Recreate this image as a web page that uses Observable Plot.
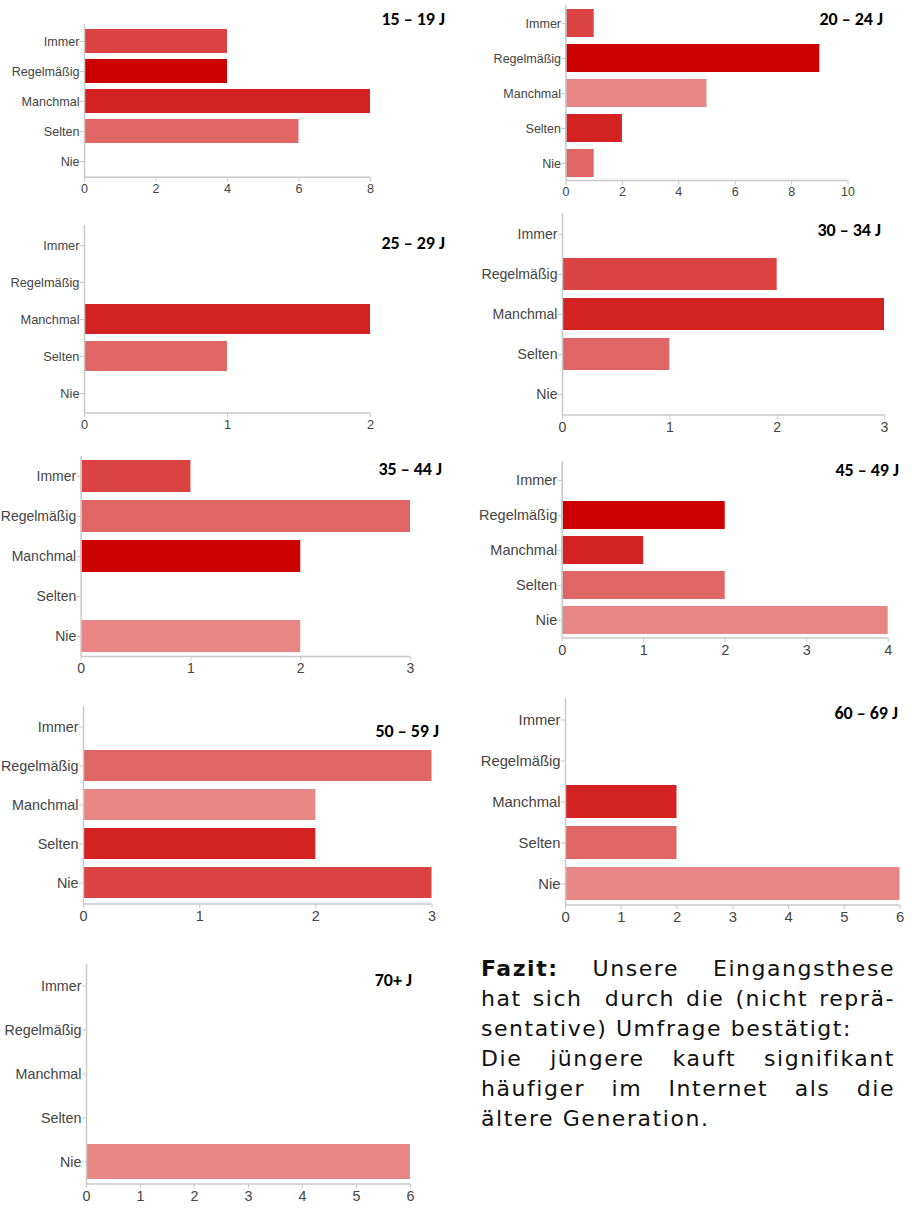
<!DOCTYPE html>
<html><head><meta charset="utf-8">
<script src="https://cdn.jsdelivr.net/npm/d3@7"></script>
<script src="https://cdn.jsdelivr.net/npm/@observablehq/plot@0.6"></script>
<style>
body{margin:0;background:#fff;}
#page{position:relative;width:912px;height:1208px;overflow:hidden;background:#fff;}
.panel{position:absolute;}
.title{position:absolute;font-family:Carlito,"Liberation Sans",Arial,sans-serif;font-weight:bold;font-size:18px;line-height:18px;color:#000;white-space:nowrap;}
.fazit{position:absolute;left:481px;top:954.4px;width:414px;font-family:"DejaVu Sans",Verdana,sans-serif;font-size:22px;line-height:30px;letter-spacing:1.55px;color:#111;}
.fazit div{white-space:pre;}
.fazit .j{white-space:normal;text-align:justify;text-align-last:justify;}
</style></head><body><div id="page"></div>
<script>
// ---- data ----
const categories = ["Immer", "Regelmäßig", "Manchmal", "Selten", "Nie"];
const ageGroups = ["15 – 19 J", "20 – 24 J", "25 – 29 J", "30 – 34 J", "35 – 44 J", "45 – 49 J", "50 – 59 J", "60 – 69 J", "70+ J"];
const v15_19 = [4, 4, 8, 6, 0];
const v20_24 = [1, 9, 5, 2, 1];
const v25_29 = [0, 0, 2, 1, 0];
const v30_34 = [0, 2, 3, 1, 0];
const v35_44 = [1, 3, 2, 0, 2];
const v45_49 = [0, 2, 1, 2, 4];
const v50_59 = [0, 3, 2, 2, 3];
const v60_69 = [0, 0, 2, 2, 6];
const v70plus = [0, 0, 0, 0, 6];
const panelValues = [v15_19, v20_24, v25_29, v30_34, v35_44, v45_49, v50_59, v60_69, v70plus];
const axisMax = [8, 10, 2, 3, 3, 4, 3, 6, 6];
const tickStep = [2, 2, 1, 1, 1, 1, 1, 1, 1];

// ---- styles ----
const shades = {a: "#cc0000", b: "#d42121", c: "#db4343", d: "#e06565", e: "#e88686"};
const barShades = [
  ["c", "a", "b", "d", "d"],
  ["c", "a", "e", "b", "d"],
  ["c", "c", "b", "d", "d"],
  ["c", "c", "b", "d", "d"],
  ["c", "d", "a", "d", "e"],
  ["c", "a", "b", "d", "e"],
  ["c", "d", "e", "b", "c"],
  ["c", "c", "b", "d", "e"],
  ["c", "c", "b", "d", "e"]
];

// ---- layout (px on the page) ----
const layout = [
  {col: 0,   x0: 84,    x1: 370,   yTop: 23.7,  yBase: 177,  fs: 12.6, tr: 445, ty: 19.5},
  {col: 456, x0: 565.5, x1: 847.5, yTop: 4.5,   yBase: 180,  fs: 12.5, tr: 883, ty: 19.5},
  {col: 0,   x0: 84,    x1: 370,   yTop: 225,   yBase: 413,  fs: 12.8, tr: 445, ty: 243.5},
  {col: 456, x0: 562,   x1: 884,   yTop: 213,   yBase: 415,  fs: 14.1, tr: 881, ty: 230.5},
  {col: 0,   x0: 80.7,  x1: 410,   yTop: 456.4, yBase: 657,  fs: 14.0, tr: 442, ty: 469},
  {col: 456, x0: 561.7, x1: 887.7, yTop: 461,   yBase: 638,  fs: 14.5, tr: 899, ty: 470.5},
  {col: 0,   x0: 83,    x1: 431.5, yTop: 706,   yBase: 904,  fs: 14.4, tr: 439, ty: 731},
  {col: 456, x0: 565,   x1: 899.5, yTop: 698,   yBase: 905,  fs: 14.8, tr: 898, ty: 713.5},
  {col: 0,   x0: 86,    x1: 410,   yTop: 964,   yBase: 1184, fs: 14.3, tr: 412, ty: 980.5}
];

const page = document.getElementById("page");
const axisGray = "#c8c8c8";
const mt = 2, mb = 30;

function baselineMark(xmax) {
  return (index, scales, values, dims) => {
    const y = dims.height - dims.marginBottom;
    return d3.create("svg:line")
      .attr("x1", scales.x(0)).attr("x2", scales.x(xmax))
      .attr("y1", y).attr("y2", y)
      .attr("stroke", axisGray).attr("stroke-width", 1.5)
      .node();
  };
}

panelValues.forEach((vals, i) => {
  const L = layout[i];
  const rows = categories
    .map((c, j) => ({category: c, value: vals[j], color: shades[barShades[i][j]]}))
    .filter(d => d.value > 0);
  const ticks = d3.range(0, axisMax[i] + 1e-9, tickStep[i]);
  const h = L.yBase - L.yTop + mt + mb;
  const chart = Plot.plot({
    width: 456,
    height: h,
    marginLeft: L.x0 - L.col,
    marginRight: L.col + 456 - L.x1,
    marginTop: mt,
    marginBottom: mb,
    style: {background: "transparent", fontFamily: "'Liberation Sans', Arial, sans-serif", fontSize: L.fs + "px", color: "#444", overflow: "visible"},
    x: {domain: [0, axisMax[i]], label: null},
    y: {domain: categories, paddingInner: 0.2, paddingOuter: 0.1, label: null},
    color: {type: "identity"},
    marks: [
      Plot.barX(rows, {x: "value", y: "category", fill: "color"}),
      Plot.ruleX([0], {stroke: axisGray, strokeWidth: 1.5}),
      baselineMark(axisMax[i]),
      Plot.axisY({tickSize: 4, tickPadding: 1, stroke: axisGray, fill: "#444", label: null}),
      Plot.axisX({ticks, tickSize: 4, tickPadding: 2, stroke: axisGray, fill: "#444", label: null, tickFormat: d => String(d)})
    ]
  });
  const wrap = document.createElement("div");
  wrap.className = "panel";
  wrap.style.left = L.col + "px";
  wrap.style.top = (L.yTop - mt) + "px";
  wrap.appendChild(chart);
  page.appendChild(wrap);

  const t = document.createElement("div");
  t.className = "title";
  t.textContent = ageGroups[i];
  t.style.right = (912 - L.tr) + "px";
  t.style.top = (L.ty - 9.4) + "px";
  page.appendChild(t);
});

const fazit = document.createElement("div");
fazit.className = "fazit";
fazit.innerHTML =
  '<div class="j"><b>Fazit:</b> Unsere Eingangsthese</div>' +
  '<div class="j">hat sich&nbsp; durch die (nicht reprä-</div>' +
  '<div>sentative) Umfrage bestätigt:</div>' +
  '<div class="j">Die jüngere kauft signifikant</div>' +
  '<div class="j">häufiger im Internet als die</div>' +
  '<div>ältere Generation.</div>';
page.appendChild(fazit);
</script>
</body></html>
